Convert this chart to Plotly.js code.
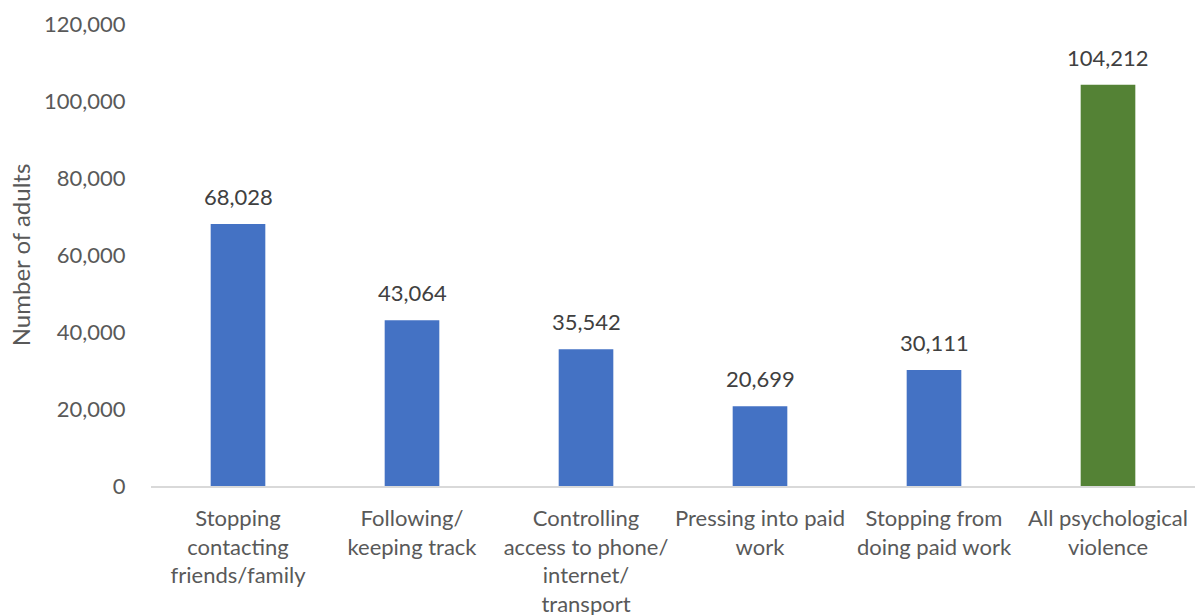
<!DOCTYPE html>
<html>
<head>
<meta charset="utf-8">
<script src="https://cdn.plot.ly/plotly-3.0.1.min.js"></script>
<style>html,body{margin:0;padding:0;background:#fff;}#chart{width:1195px;height:615px;}</style>
</head>
<body>
<div id="chart"></div>
<script>
const categories = [
  "Stopping<br>contacting<br>friends/family",
  "Following/<br>keeping track",
  "Controlling<br>access to phone/<br>internet/<br>transport",
  "Pressing into paid<br>work",
  "Stopping from<br>doing paid work",
  "All psychological<br>violence"
];
const values = [68028, 43064, 35542, 20699, 30111, 104212];
const barColors = ["#4472C4", "#4472C4", "#4472C4", "#4472C4", "#4472C4", "#548235"];
const yTickVals = [0, 20000, 40000, 60000, 80000, 100000, 120000];
const yTickText = ["0", "20,000", "40,000", "60,000", "80,000", "100,000", "120,000"];

const FONT = "Lato, 'Open Sans', sans-serif";
const fmt = v => v.toLocaleString("en-US");

const trace = {
  type: "bar",
  x: categories,
  y: values,
  marker: {color: barColors},
  hoverinfo: "none"
};

const annotations = values.map((v, i) => ({
  x: categories[i],
  y: v,
  xref: "x",
  yref: "y",
  text: fmt(v),
  showarrow: false,
  yanchor: "bottom",
  yshift: 12,
  font: {family: FONT, size: 22, color: "#404040"}
}));

const layout = {
  width: 1195,
  height: 615,
  margin: {l: 151, r: 0, t: 24, b: 129},
  paper_bgcolor: "#fff",
  plot_bgcolor: "#fff",
  showlegend: false,
  bargap: 0.686,
  font: {family: FONT, size: 22, color: "#595959"},
  xaxis: {
    type: "category",
    showline: true,
    linecolor: "#d9d9d9",
    linewidth: 1.5,
    ticks: "outside",
    ticklen: 12,
    tickcolor: "rgba(0,0,0,0)",
    tickfont: {family: FONT, size: 22, color: "#595959"},
    showgrid: false,
    zeroline: false
  },
  yaxis: {
    range: [0, 120000],
    tickvals: yTickVals,
    ticktext: yTickText,
    showgrid: false,
    zeroline: false,
    showline: false,
    ticks: "outside",
    ticklen: 20,
    tickcolor: "rgba(0,0,0,0)",
    tickfont: {family: FONT, size: 22, color: "#595959"},
    title: {text: "Number of adults", font: {family: FONT, size: 24, color: "#595959"}, standoff: 6}
  },
  annotations: annotations
};

Plotly.newPlot("chart", [trace], layout, {staticPlot: true, displayModeBar: false});
</script>
</body>
</html>
